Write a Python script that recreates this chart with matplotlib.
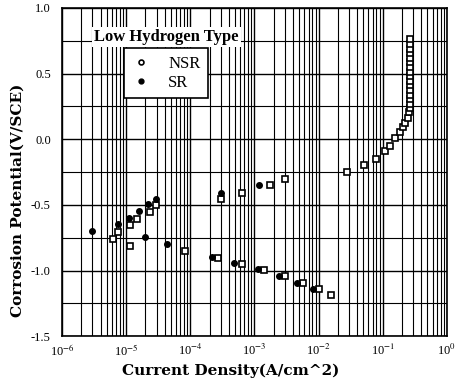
import matplotlib.pyplot as plt
from matplotlib.lines import Line2D
from matplotlib.ticker import LogLocator, MultipleLocator, FixedLocator, NullFormatter

# NSR (open squares) - current density (A/cm^2), potential (V/SCE)
nsr_x = [6.3e-6, 7.6e-6, 1.15e-5, 1.15e-5, 1.48e-5, 2.34e-5, 2.9e-5, 8.3e-5,
         2.75e-4, 3.0e-4, 6.5e-4, 6.5e-4, 1.4e-3, 1.74e-3, 3.0e-3, 3.0e-3,
         5.75e-3, 1.0e-2, 1.58e-2, 0.0275, 0.052, 0.080, 0.107, 0.129, 0.155,
         0.185, 0.204, 0.221, 0.244, 0.258,
         0.27, 0.27, 0.27, 0.27, 0.27, 0.27, 0.27, 0.27,
         0.27, 0.27, 0.27, 0.27, 0.27, 0.27, 0.27, 0.27]
nsr_y = [-0.76, -0.705, -0.656, -0.81, -0.61, -0.555, -0.504, -0.85,
         -0.905, -0.455, -0.954, -0.408, -0.995, -0.35, -0.30, -1.04,
         -1.094, -1.144, -1.19, -0.25, -0.197, -0.153, -0.09, -0.05, 0.007,
         0.057, 0.095, 0.126, 0.164, 0.205,
         0.235, 0.27, 0.305, 0.34, 0.375, 0.41, 0.445, 0.48,
         0.515, 0.55, 0.585, 0.62, 0.655, 0.69, 0.725, 0.76]

# SR (filled circles)
sr_x = [2.9e-6, 7.6e-6, 1.1e-5, 1.58e-5, 1.95e-5, 2.2e-5, 2.9e-5, 4.4e-5,
        2.2e-4, 2.97e-4, 4.9e-4, 1.15e-3, 1.19e-3, 2.45e-3, 4.7e-3, 8.3e-3]
sr_y = [-0.70, -0.646, -0.60, -0.547, -0.748, -0.494, -0.453, -0.80,
        -0.895, -0.408, -0.946, -0.99, -0.35, -1.04, -1.094, -1.144]

x_ticks = [1e-6, 1e-5, 1e-4, 1e-3, 1e-2, 1e-1, 1e0]
x_labels = ['10$^{-6}$', '10$^{-5}$', '10$^{-4}$', '10$^{-3}$', '10$^{-2}$', '10$^{-1}$', '10$^{0}$']
y_ticks = [1.0, 0.5, 0.0, -0.5, -1.0, -1.5]
y_labels = ['1.0', '0.5', '0.0', '-0.5', '-1.0', '-1.5']

plt.rcParams['font.family'] = 'Liberation Serif'
plt.rcParams['mathtext.fontset'] = 'stix'

fig = plt.figure(figsize=(4.55, 3.79), dpi=100)
ax = fig.add_axes([0.136, 0.113, 0.846, 0.866])

ax.set_xscale('log')
ax.set_xlim(1e-6, 1e0)
ax.set_ylim(-1.5, 1.0)

ax.xaxis.set_major_locator(FixedLocator(x_ticks))
ax.set_xticklabels(x_labels, fontsize=9)
ax.xaxis.set_minor_locator(LogLocator(base=10, subs=range(2, 10), numticks=20))
ax.xaxis.set_minor_formatter(NullFormatter())
ax.set_yticks(y_ticks)
ax.set_yticklabels(y_labels, fontsize=9)
ax.yaxis.set_minor_locator(MultipleLocator(0.25))

ax.grid(True, which='major', color='black', linewidth=1.0)
ax.grid(True, which='minor', color='black', linewidth=0.8)
ax.tick_params(which='both', length=0)
ax.tick_params(axis='x', pad=5)
ax.tick_params(axis='y', pad=8)
for sp in ax.spines.values():
    sp.set_linewidth(1.2)

ax.plot(nsr_x, nsr_y, linestyle='none', marker='s', markersize=5,
        markerfacecolor='white', markeredgecolor='black', markeredgewidth=1.2, zorder=3)
ax.plot(sr_x, sr_y, linestyle='none', marker='o', markersize=4,
        color='black', zorder=3)

ax.text(0.272, 0.912, 'Low Hydrogen Type', transform=ax.transAxes, ha='center', va='center',
        fontsize=12, fontweight='bold',
        bbox=dict(facecolor='white', edgecolor='none', pad=1.5), zorder=4)

handles = [Line2D([], [], linestyle='none', marker='o', markersize=3.5, markerfacecolor='white',
                  markeredgecolor='black', markeredgewidth=1.2),
           Line2D([], [], linestyle='none', marker='o', markersize=3.5, color='black')]
leg = ax.legend(handles, ['NSR', 'SR'], loc='upper left', bbox_to_anchor=(0.161, 0.878),
                frameon=True, fancybox=False, edgecolor='black', framealpha=1,
                fontsize=12, handlelength=1.2, handletextpad=1.0, borderpad=0.45,
                labelspacing=0.2, borderaxespad=0)
leg.get_frame().set_linewidth(1.2)
leg.set_zorder(5)

ax.set_xlabel('Current Density(A/cm^2)', fontsize=11, fontweight='bold',
              family='DejaVu Serif', va='center')
ax.xaxis.set_label_coords(0.439, -0.104)
ax.set_ylabel('Corrosion Potential(V/SCE)', fontsize=11, fontweight='bold',
              family='DejaVu Serif', va='center')
ax.yaxis.set_label_coords(-0.114, 0.415)

fig.savefig('out.png', dpi=100)
